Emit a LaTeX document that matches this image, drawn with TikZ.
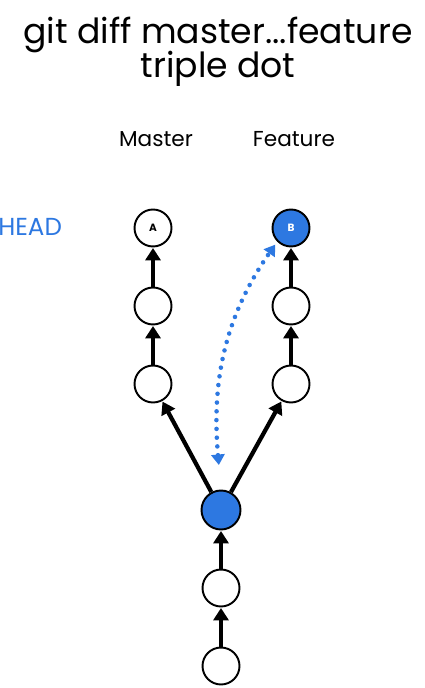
\documentclass[tikz,border=0pt]{standalone}
\usepackage{fontspec}
\setmainfont{Poppins}
\usetikzlibrary{arrows.meta}
\definecolor{headblue}{RGB}{45, 120, 225}
\tikzset{
    commit/.style={circle, draw, line width=1.1pt, fill=white,
        minimum size=0.74cm, inner sep=0pt, font=\fontsize{6}{7}\selectfont\bfseries},
    basecommit/.style={commit, fill=headblue, minimum size=0.78cm},
    parentarrow/.style={line width=2.4pt,
        -{Triangle[length=7pt, width=8.5pt]}, shorten >=0.3pt},
    diffarrow/.style={headblue, line width=2.6pt, line cap=round,
        dash pattern=on 0pt off 5pt,
        {Triangle[length=6pt, width=7.5pt, line cap=butt]}-{Triangle[length=6pt, width=7.5pt, line cap=butt]}},
}

\begin{document}
\begin{tikzpicture}[x=0.02cm, y=-0.02cm]
    \useasboundingbox (0, 0) rectangle (424, 688);
    % title
    \node[font=\fontsize{19.7}{22}\selectfont] (title) at (218, 35) {git diff master...feature};
    \node[font=\fontsize{19.7}{22}\selectfont] (title2) at (218, 69) {triple dot};
    % branch labels
    \node[font=\fontsize{12.3}{14}\selectfont] (master) at (156, 139) {Master};
    \node[font=\fontsize{12.3}{14}\selectfont] (feature) at (294, 139) {Feature};
    \node[font=\fontsize{14}{16}\selectfont, text=headblue, anchor=west, inner sep=0pt]
        (head) at (-2, 227) {HEAD};
    % commits
    \node[commit] (a) at (153, 228) {A};
    \node[commit] (m2) at (153, 306) {};
    \node[commit] (m3) at (153, 384) {};
    \node[commit, fill=headblue, text=white] (b) at (291, 228) {B};
    \node[commit] (f2) at (291, 306) {};
    \node[commit] (f3) at (291, 384) {};
    \node[basecommit] (base) at (221, 510) {};
    \node[commit] (c1) at (221, 588) {};
    \node[commit] (c0) at (221, 666) {};
    % history
    \foreach \from/\to in {m2/a, m3/m2, base/m3, f2/b, f3/f2, base/f3, c1/base, c0/c1}{
        \draw[parentarrow] (\from) -- (\to);
    }
    % diff range
    \draw[diffarrow, shorten <=14pt, shorten >=2pt]
        (base.north) to[out=95, in=235] (b.south west);
\end{tikzpicture}
\end{document}
